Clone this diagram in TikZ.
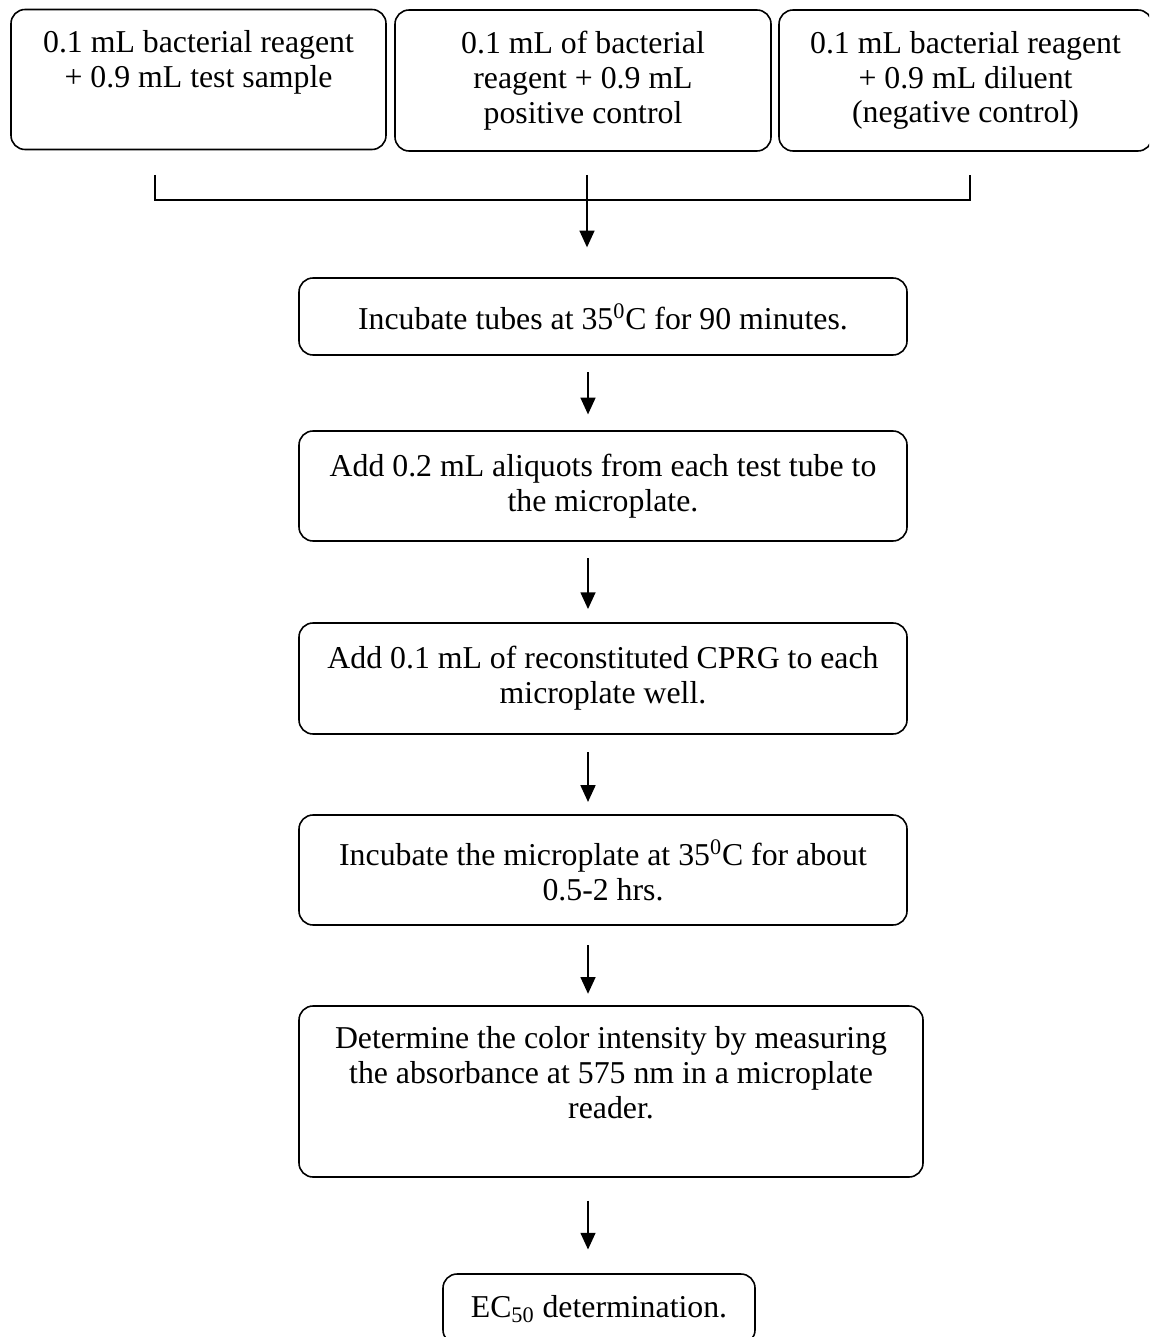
\documentclass[tikz,border=0pt]{standalone}
\usepackage{fontspec}
\setmainfont{Liberation Serif}
\usepackage{tikz}
\usetikzlibrary{arrows.meta, positioning, calc}

\begin{document}
\begin{tikzpicture}[
    x=0.02cm, y=-0.02cm,
    box/.style={draw, rounded corners=8pt, line width=0.9pt, align=center, inner sep=0pt,
        font=\fontsize{18.1pt}{19.8pt}\selectfont},
    arrow/.style={-{Triangle[length=9.5pt, width=8.5pt]}, line width=0.9pt}
]
    \useasboundingbox (0,0) rectangle (1149,1337);
    \clip (0,0) rectangle (1149,1337);

    % three starting tubes
    \node[box, minimum width=375*0.02cm, minimum height=140*0.02cm, text depth=23pt] (tube1) at (198.5,79.5)
        {0.1 mL bacterial reagent\\+ 0.9 mL test sample};
    \node[box, minimum width=376*0.02cm, minimum height=141*0.02cm] (tube2) at (583,80.5)
        {0.1 mL of bacterial\\reagent + 0.9 mL\\positive control};
    \node[box, minimum width=373*0.02cm, minimum height=141*0.02cm] (tube3) at (965.5,80.5)
        {0.1 mL bacterial reagent\\+ 0.9 mL diluent\\(negative control)};

    % steps
    \node[box, minimum width=608*0.02cm, minimum height=77*0.02cm] (incub) at (603,316.5)
        {Incubate tubes at 35\textsuperscript{0}C for 90 minutes.};
    \node[box, minimum width=608*0.02cm, minimum height=110*0.02cm] (aliq) at (603,486)
        {Add 0.2 mL aliquots from each test tube to\\the microplate.};
    \node[box, minimum width=608*0.02cm, minimum height=111*0.02cm] (cprg) at (603,678.5)
        {Add 0.1 mL of reconstituted CPRG to each\\microplate well.};
    \node[box, minimum width=608*0.02cm, minimum height=110*0.02cm] (plate) at (603,870)
        {Incubate the microplate at 35\textsuperscript{0}C for about\\0.5-2 hrs.};
    \node[box, minimum width=624*0.02cm, minimum height=171*0.02cm, text depth=22pt] (read) at (611,1091.5)
        {Determine the color intensity by measuring\\the absorbance at 575 nm in a microplate\\reader.};
    \node[box, minimum width=312*0.02cm, minimum height=70*0.02cm] (ec) at (599,1309)
        {EC\textsubscript{50} determination.};

    % bracket joining the tubes
    \coordinate (jl) at (155,175);
    \coordinate (jm) at (587,175);
    \coordinate (jr) at (970,175);
    \coordinate (spine) at (588,0);
    \draw[line width=0.9pt] (jl) -- ++(0,25) -| (jr);
    \draw[arrow, shorten >=17pt] (jm) -- (incub.north -| jm);

    \draw[arrow, shorten <=9.5pt, shorten >=9pt] (incub.south -| spine) -- (aliq.north -| spine);
    \draw[arrow, shorten <=9.5pt, shorten >=7.5pt] (aliq.south -| spine) -- (cprg.north -| spine);
    \draw[arrow, shorten <=10pt, shorten >=7pt] (cprg.south -| spine) -- (plate.north -| spine);
    \draw[arrow, shorten <=11pt, shorten >=6.5pt] (plate.south -| spine) -- (read.north -| spine);
    \draw[arrow, shorten <=13pt, shorten >=13.5pt] (read.south -| spine) -- (ec.north -| spine);
\end{tikzpicture}
\end{document}
